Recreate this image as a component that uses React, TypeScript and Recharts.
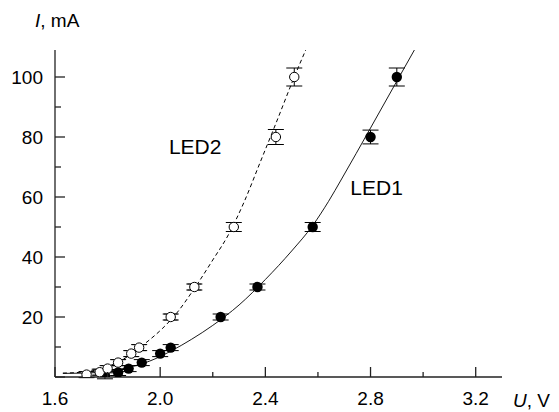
import React from 'react';
import { ComposedChart, XAxis, YAxis, Scatter, Line, ErrorBar, ReferenceDot, Label } from 'recharts';

// Tick values
const xTicks = [1.6, 1.8, 2.0, 2.2, 2.4, 2.6, 2.8, 3.0, 3.2];
const xLabelTicks = [1.6, 2.0, 2.4, 2.8, 3.2];
const yTicks = [0, 10, 20, 30, 40, 50, 60, 70, 80, 90, 100];
const yLabelTicks = [20, 40, 60, 80, 100];
const yMajorTicks = [0, 20, 40, 60, 80, 100];

// LED1 measured points (filled)
const led1U = [1.79, 1.84, 1.88, 1.93, 2.0, 2.04, 2.23, 2.37, 2.58, 2.8, 2.9];
const led1I = [0.4, 1.5, 2.8, 4.8, 7.8, 9.8, 20, 30, 50, 80, 100];
const led1Err = [1, 1, 1, 1, 1, 1, 1, 1, 1.5, 2.3, 3];

// LED2 measured points (open)
const led2U = [1.72, 1.77, 1.8, 1.84, 1.89, 1.92, 2.04, 2.13, 2.28, 2.44, 2.51];
const led2I = [0.8, 1.6, 2.8, 4.8, 7.8, 9.8, 20, 30, 50, 80, 100];
const led2Err = [1, 1, 1, 1, 1, 1, 1, 1, 1.5, 2.5, 3];

// Fitted curves
const led1CurveU = [1.63, 1.72, 1.8, 1.88, 1.96, 2.04, 2.12, 2.2, 2.3, 2.4, 2.5, 2.58, 2.64, 2.69, 2.8, 2.9, 2.97];
const led1CurveI = [1.2, 1.3, 1.9, 3.2, 5.3, 8.6, 12.6, 17.2, 24, 32.5, 42, 50.5, 58.5, 66, 83, 98.6, 109.5];
const led2CurveU = [1.63, 1.7, 1.76, 1.82, 1.88, 1.94, 2.01, 2.06, 2.13, 2.2, 2.26, 2.32, 2.38, 2.44, 2.51, 2.556];
const led2CurveI = [1.3, 1.6, 2.4, 4.2, 7, 11, 16.3, 21, 29.5, 39, 47.5, 58.5, 71.5, 84.5, 100, 109.5];

const zip = (u: number[], i: number[], e?: number[]) =>
  u.map((v, k) => (e ? { u: v, i: i[k], err: e[k] } : { u: v, i: i[k] }));

const led1Data = zip(led1U, led1I, led1Err);
const led2Data = zip(led2U, led2I, led2Err);
const led2Small = led2Data.filter((d) => d.i <= 30);
const led1Curve = zip(led1CurveU, led1CurveI);
const led2Curve = zip(led2CurveU, led2CurveI);

const FONT = 'Arial, "Liberation Sans", Helvetica, sans-serif';
const X_DOMAIN: [number, number] = [1.6, 3.3];
const Y_DOMAIN: [number, number] = [0, 109];
const AXIS_COLOR = '#222';
const TICK_FONT = 19;

const isIn = (arr: number[], v: number) => arr.some((a) => Math.abs(a - v) < 1e-6);

const XTick = (p: any) => {
  const v = p.payload.value as number;
  const major = isIn(xLabelTicks, v);
  return (
    <g>
      <line x1={p.x} x2={p.x} y1={p.y} y2={p.y - (major ? 10 : 5)} stroke={AXIS_COLOR} strokeWidth={1.3} />
      {major && (
        <text x={p.x} y={p.y + 28} textAnchor="middle" fontFamily={FONT} fontSize={TICK_FONT} fill="#000">
          {v.toFixed(1)}
        </text>
      )}
    </g>
  );
};

const YTick = (p: any) => {
  const v = p.payload.value as number;
  const major = isIn(yMajorTicks, v);
  const labeled = isIn(yLabelTicks, v);
  return (
    <g>
      <line x1={p.x} x2={p.x + (major ? 10 : 6)} y1={p.y} y2={p.y} stroke={AXIS_COLOR} strokeWidth={1.3} />
      {labeled && (
        <text x={p.x - 12} y={p.y + 7} textAnchor="end" fontFamily={FONT} fontSize={TICK_FONT} fill="#000">
          {v}
        </text>
      )}
    </g>
  );
};

const FilledDot = (p: any) => <circle cx={p.cx} cy={p.cy} r={5.2} fill="#000" stroke="none" />;
const OpenDot = (p: any) => <circle cx={p.cx} cy={p.cy} r={4.7} fill="#fff" stroke="#000" strokeWidth={1} />;
const NoDot = () => <g />;

export default function App() {
  return (
    <div style={{ position: 'absolute', left: 0, top: 0, width: 559, height: 412, background: '#fff' }}>
      <ComposedChart width={559} height={412} margin={{ top: 50, right: 57, bottom: 0, left: 0 }}>
        <XAxis
          xAxisId="x"
          dataKey="u"
          type="number"
          domain={X_DOMAIN}
          ticks={xTicks}
          interval={0}
          allowDataOverflow
          height={35}
          axisLine={{ stroke: AXIS_COLOR, strokeWidth: 1.3 }}
          tickLine={false}
          tickSize={0}
          tickMargin={0}
          tick={XTick}
        />
        <YAxis
          yAxisId="y"
          dataKey="i"
          type="number"
          domain={Y_DOMAIN}
          ticks={yTicks}
          interval={0}
          allowDataOverflow
          width={55}
          axisLine={{ stroke: AXIS_COLOR, strokeWidth: 1.3 }}
          tickLine={false}
          tickSize={0}
          tickMargin={0}
          tick={YTick}
        />

        {/* fitted curves */}
        <Line
          data={led2Curve}
          dataKey="i"
          xAxisId="x"
          yAxisId="y"
          type="monotone"
          dot={false}
          activeDot={false}
          stroke="#000"
          strokeWidth={1}
          strokeDasharray="4 3"
          isAnimationActive={false}
        />
        <Line
          data={led1Curve}
          dataKey="i"
          xAxisId="x"
          yAxisId="y"
          type="monotone"
          dot={false}
          activeDot={false}
          stroke="#000"
          strokeWidth={0.9}
          isAnimationActive={false}
        />

        {/* measured points */}
        <Scatter data={led1Data} dataKey="i" xAxisId="x" yAxisId="y" shape={FilledDot} isAnimationActive={false}>
          <ErrorBar dataKey="err" direction="y" width={8} stroke="#000" strokeWidth={1} />
        </Scatter>
        <Scatter data={led2Data} dataKey="i" xAxisId="x" yAxisId="y" shape={OpenDot} isAnimationActive={false}>
          <ErrorBar dataKey="err" direction="y" width={8} stroke="#000" strokeWidth={1} />
        </Scatter>
        <Scatter data={led2Small} dataKey="i" xAxisId="x" yAxisId="y" shape={NoDot} isAnimationActive={false}>
          <ErrorBar dataKey="err" direction="y" width={7} stroke="#000" strokeWidth={0.8} />
        </Scatter>

        {/* series labels */}
        <ReferenceDot x={2.133} y={76.8} r={0} xAxisId="x" yAxisId="y" fill="none" stroke="none">
          <Label value="LED2" position="center" style={{ fontFamily: FONT, fontSize: 21, fill: '#000' }} />
        </ReferenceDot>
        <ReferenceDot x={2.823} y={63.2} r={0} xAxisId="x" yAxisId="y" fill="none" stroke="none">
          <Label value="LED1" position="center" style={{ fontFamily: FONT, fontSize: 21, fill: '#000' }} />
        </ReferenceDot>
      </ComposedChart>
      <svg
        width={559}
        height={412}
        style={{ position: 'absolute', left: 0, top: 0, pointerEvents: 'none' }}
      >
        <text x={35} y={27} fontFamily={FONT} fontSize={19} fill="#000">
          <tspan fontStyle="italic">I</tspan>, mA
        </text>
        <text x={513} y={407} fontFamily={FONT} fontSize={19} fill="#000">
          <tspan fontStyle="italic">U</tspan>, V
        </text>
      </svg>
    </div>
  );
}
